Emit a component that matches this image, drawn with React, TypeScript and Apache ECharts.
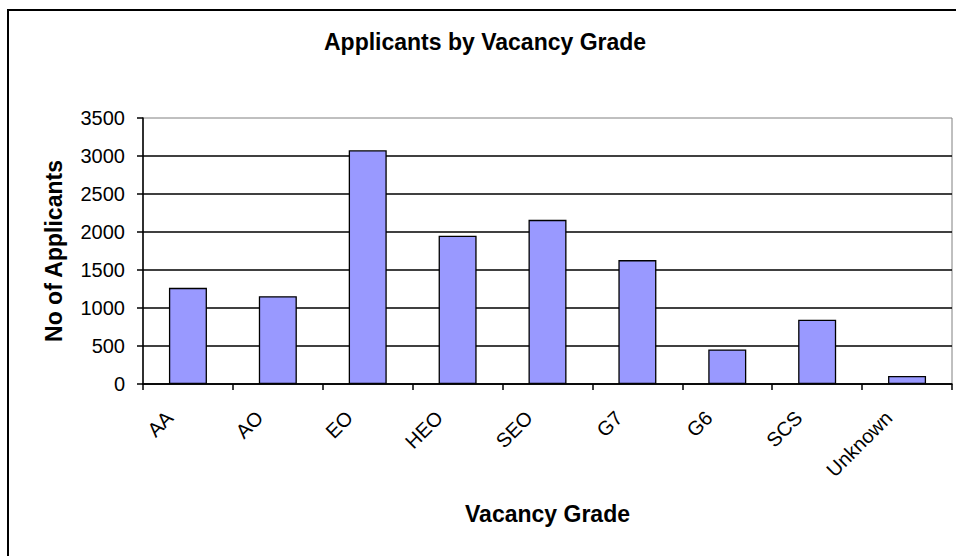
import React, { useEffect, useRef } from "react";
import * as echarts from "echarts";

const categories = ["AA", "AO", "EO", "HEO", "SEO", "G7", "G6", "SCS", "Unknown"];
const applicants = [1265, 1155, 3075, 1950, 2160, 1630, 455, 845, 105];
const yTicks = { min: 0, max: 3500, interval: 500 };

const FONT = "'Liberation Sans', Arial, sans-serif";

export default function App() {
  const ref = useRef<HTMLDivElement>(null);
  useEffect(() => {
    if (!ref.current) return;
    const chart = echarts.init(ref.current, undefined, { renderer: "svg" });
    chart.setOption({
      animation: false,
      backgroundColor: "#ffffff",
      title: {
        text: "Applicants by Vacancy Grade",
        left: 324,
        top: 30,
        padding: 0,
        textStyle: { fontFamily: FONT, fontSize: 23, fontWeight: "bold", color: "#000" },
      },
      graphic: [
        {
          type: "rect",
          shape: { x: 8, y: 10, width: 970, height: 570 },
          style: { fill: "none", stroke: "#000", lineWidth: 2 },
          silent: true,
        },
      ],
      grid: {
        left: 143,
        top: 118,
        width: 809,
        height: 266,
        show: true,
        borderColor: "#808080",
        borderWidth: 1,
        backgroundColor: "#ffffff",
      },
      xAxis: {
        type: "category",
        data: categories,
        name: "Vacancy Grade",
        nameLocation: "middle",
        nameGap: 118,
        nameTextStyle: { fontFamily: FONT, fontSize: 23, fontWeight: "bold", color: "#000" },
        axisLine: { lineStyle: { color: "#000", width: 1.5 } },
        axisTick: { show: true, length: 6, lineStyle: { color: "#000", width: 1.5 } },
        axisLabel: {
          rotate: 45,
          interval: 0,
          margin: 12,
          padding: [0, 26, 0, 0],
          fontFamily: FONT,
          fontSize: 20,
          color: "#000",
        },
        splitLine: { show: false },
      },
      yAxis: {
        type: "value",
        min: yTicks.min,
        max: yTicks.max,
        interval: yTicks.interval,
        name: "No of Applicants",
        nameLocation: "middle",
        nameGap: 78,
        nameTextStyle: { fontFamily: FONT, fontSize: 23, fontWeight: "bold", color: "#000" },
        axisLine: { show: true, lineStyle: { color: "#000", width: 1.5 } },
        axisTick: { show: true, length: 6, lineStyle: { color: "#000", width: 1.5 } },
        axisLabel: {
          margin: 18,
          fontFamily: FONT,
          fontSize: 20,
          color: "#000",
          formatter: (v: number) => String(v),
        },
        splitLine: { show: true, showMaxLine: false, lineStyle: { color: "#000", width: 1.5 } },
      },
      series: [
        {
          type: "bar",
          data: applicants,
          barWidth: 38,
          itemStyle: { color: "#9999FF", borderColor: "#000", borderWidth: 1.3 },
        },
      ],
    });
    return () => chart.dispose();
  }, []);
  return (
    <div
      ref={ref}
      style={{ position: "fixed", left: 0, top: 0, width: 956, height: 556 }}
    />
  );
}
